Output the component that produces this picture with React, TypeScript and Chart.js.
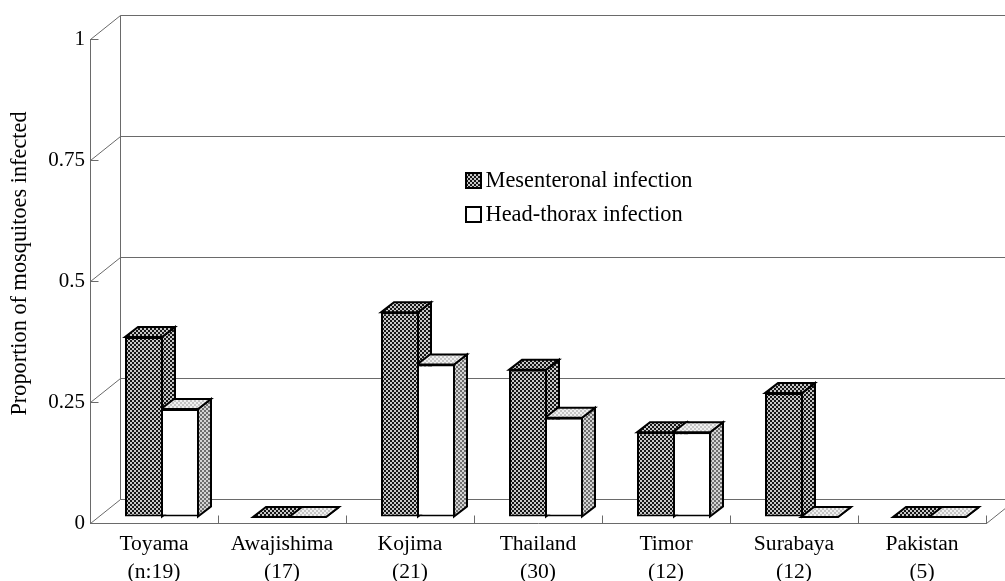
import React, { useEffect, useRef } from "react";
import { Chart, registerables } from "chart.js";

Chart.register(...registerables);

const categories = ["Toyama", "Awajishima", "Kojima", "Thailand", "Timor", "Surabaya", "Pakistan"];
const sampleSizes = ["(n:19)", "(17)", "(21)", "(30)", "(12)", "(12)", "(5)"];
const mesenteronal = [0.372, 0, 0.423, 0.304, 0.175, 0.256, 0];
const headThorax = [0.223, 0, 0.315, 0.205, 0.175, 0, 0];
const seriesNames = ["Mesenteronal infection", "Head-thorax infection"];
const yTitle = "Proportion of mosquitoes infected";

const SERIF = "'Liberation Serif', serif";
const AXIS = "#6a6a6a";
const INK = "#000";
const WALL_DX = 30;
const WALL_DY = -24;
const FRONT_DX = 8;
const FRONT_DY = -6;
const DEPTH_DX = 13;
const DEPTH_DY = -10;
const BAR_OVERLAP = 2;

function tile(a: string, b: string): CanvasPattern {
  const c = document.createElement("canvas");
  c.width = 4;
  c.height = 4;
  const g = c.getContext("2d")!;
  g.fillStyle = a;
  g.fillRect(0, 0, 4, 4);
  g.fillStyle = b;
  g.fillRect(0, 0, 2, 2);
  g.fillRect(2, 2, 2, 2);
  return g.createPattern(c, "repeat")!;
}

export default function App() {
  const ref = useRef<HTMLCanvasElement | null>(null);

  useEffect(() => {
    const canvas = ref.current!;
    const dark = tile("#161616", "#c8c8c8");
    const white = "#ffffff";
    const lightTop = tile("#c4c4c4", "#f0f0f0");
    const midSide = tile("#6e6e6e", "#d4d4d4");

    const decor = {
      id: "decor3d",
      afterDatasetsUpdate(chart: any) {
        chart.data.datasets.forEach((_: any, i: number) => {
          chart.getDatasetMeta(i).data.forEach((el: any) => {
            el.x += FRONT_DX;
            el.y += FRONT_DY;
            el.base += FRONT_DY;
            el.width += BAR_OVERLAP;
          });
        });
      },
      beforeDatasetsDraw(chart: any) {
        const ctx = chart.ctx;
        const y = chart.scales.y;
        const x = chart.scales.x;
        const area = chart.chartArea;
        ctx.save();
        ctx.strokeStyle = AXIS;
        ctx.lineWidth = 1;
        const line = (x1: number, y1: number, x2: number, y2: number) => {
          ctx.beginPath();
          ctx.moveTo(x1 + 0.5, y1 + 0.5);
          ctx.lineTo(x2 + 0.5, y2 + 0.5);
          ctx.stroke();
        };
        // Back wall, side wall and inward ticks
        line(area.left + WALL_DX, y.getPixelForValue(1) + WALL_DY, area.left + WALL_DX, y.getPixelForValue(0) + WALL_DY);
        y.ticks.forEach((t: any) => {
          const py = y.getPixelForValue(t.value);
          line(area.left, py, area.left + 8, py);
          line(area.left, py, area.left + WALL_DX, py + WALL_DY);
          line(area.left + WALL_DX, py + WALL_DY, 1005, py + WALL_DY);
        });
        const y0 = y.getPixelForValue(0);
        line(area.right, y0, area.right + WALL_DX, y0 + WALL_DY);
        const step = (area.right - area.left) / categories.length;
        categories.forEach((_, i) => {
          const px = x.getPixelForValue(i) + step / 2;
          line(px, y0, px, y0 - 8);
        });

        // Depth faces of the bars
        ctx.strokeStyle = INK;
        ctx.lineWidth = 2;
        ctx.lineJoin = "miter";
        const faces = [
          { top: dark, side: dark },
          { top: lightTop, side: midSide },
        ];
        const poly = (pts: number[][], fill: any) => {
          ctx.beginPath();
          pts.forEach((p, k) => (k ? ctx.lineTo(p[0], p[1]) : ctx.moveTo(p[0], p[1])));
          ctx.closePath();
          ctx.fillStyle = fill;
          ctx.fill();
          ctx.stroke();
        };
        categories.forEach((_, c) => {
          chart.data.datasets.forEach((__: any, i: number) => {
            const el = chart.getDatasetMeta(i).data[c];
            const l = el.x - el.width / 2;
            const r = el.x + el.width / 2 - 1;
            const t = el.y;
            const b = el.base;
            poly(
              [[r, t], [r + DEPTH_DX, t + DEPTH_DY], [r + DEPTH_DX, b + DEPTH_DY], [r, b]],
              faces[i].side
            );
            poly(
              [[l, t], [l + DEPTH_DX, t + DEPTH_DY], [r + DEPTH_DX, t + DEPTH_DY], [r, t]],
              faces[i].top
            );
          });
        });
        ctx.restore();
      },
      afterDraw(chart: any) {
        const ctx = chart.ctx;
        ctx.save();
        // Axis title
        ctx.fillStyle = INK;
        ctx.font = `22.3px ${SERIF}`;
        ctx.textAlign = "center";
        ctx.textBaseline = "alphabetic";
        ctx.translate(26, 263.5);
        ctx.rotate(-Math.PI / 2);
        ctx.fillText(yTitle, 0, 0);
        ctx.restore();
        // Legend
        ctx.save();
        ctx.font = `22.4px ${SERIF}`;
        ctx.textAlign = "left";
        ctx.strokeStyle = INK;
        ctx.lineWidth = 2;
        [dark, white].forEach((fill: any, i) => {
          const top = 173 + i * 34;
          ctx.fillStyle = fill;
          ctx.fillRect(466, top, 15, 15);
          ctx.strokeRect(466, top, 15, 15);
          ctx.fillStyle = INK;
          ctx.fillText(seriesNames[i], 485.5, top + 14);
        });
        ctx.restore();
      },
    };

    const chart = new Chart(canvas, {
      type: "bar",
      data: {
        labels: categories.map((c, i) => [c, sampleSizes[i]]),
        datasets: [
          { label: seriesNames[0], data: mesenteronal, backgroundColor: dark, borderColor: INK, borderWidth: 2, borderSkipped: false },
          { label: seriesNames[1], data: headThorax, backgroundColor: white, borderColor: INK, borderWidth: 2, borderSkipped: false },
        ],
      },
      options: {
        responsive: false,
        animation: false,
        events: [],
        layout: { padding: { left: 0, right: 19, top: 39, bottom: 0 } },
        datasets: { bar: { categoryPercentage: 0.5625, barPercentage: 1 } },
        plugins: { legend: { display: false }, tooltip: { enabled: false }, title: { display: false } },
        scales: {
          x: {
            offset: true,
            afterFit: (s: any) => { s.height = 58; },
            grid: { drawOnChartArea: false, drawTicks: false },
            border: { display: true, color: AXIS, width: 1 },
            ticks: {
              color: INK,
              padding: 7,
              maxRotation: 0,
              autoSkip: false,
              font: { family: SERIF, size: 21.6, lineHeight: 1.3 },
            },
          },
          y: {
            min: 0,
            max: 1,
            afterFit: (s: any) => { s.width = 90; },
            grid: { drawOnChartArea: false, drawTicks: false },
            border: { display: true, color: AXIS, width: 1 },
            ticks: {
              stepSize: 0.25,
              color: INK,
              padding: 5,
              font: { family: SERIF, size: 21 },
              callback: (v: any) => String(v),
            },
          },
        },
      },
      plugins: [decor],
    } as any);
    return () => chart.destroy();
  }, []);

  return (
    <div style={{ position: "absolute", left: 0, top: 0, width: 1005, height: 581 }}>
      <canvas ref={ref} width={1005} height={581} style={{ display: "block" }} />
    </div>
  );
}
